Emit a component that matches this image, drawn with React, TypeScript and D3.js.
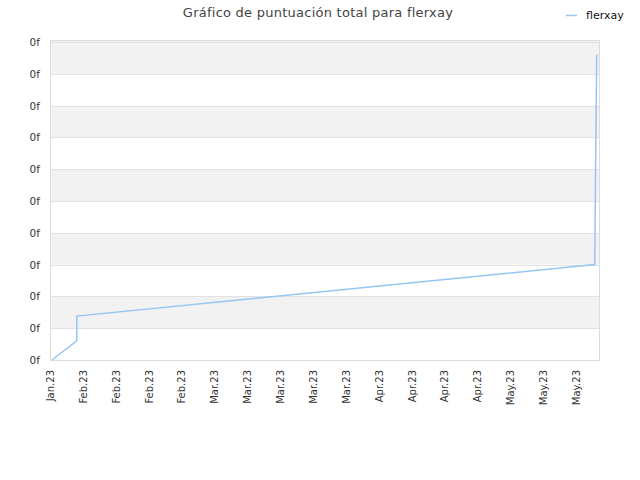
import React from "react";
import * as d3 from "d3";

const title = "Gráfico de puntuación total para flerxay";
const seriesName = "flerxay";
const xTickLabels = [
  "Jan.23", "Feb.23", "Feb.23", "Feb.23", "Feb.23",
  "Mar.23", "Mar.23", "Mar.23", "Mar.23", "Mar.23",
  "Apr.23", "Apr.23", "Apr.23", "Apr.23",
  "May.23", "May.23", "May.23",
];
const yTickValues = [0, 1, 2, 3, 4, 5, 6, 7, 8, 9, 10];
const yTickLabel = "0f";
// positions in tick units, values in grid units
const pointX = [0.04, 0.8, 0.8, 16.56, 16.58, 16.62];
const pointY = [0, 0.6, 1.38, 3.0, 5.4, 9.6];

export default function App() {
  const W = 640, H = 480;
  const left = 50, right = 600, top = 40, bottom = 360;
  const x = d3.scaleLinear().domain([0, 16.72]).range([left + 0.5, right]);
  const y = d3.scaleLinear().domain([0, 10]).range([bottom, 42]);
  const data = pointX.map((v, i) => [v, pointY[i]] as [number, number]);
  const line = d3.line<[number, number]>().x(d => x(d[0])).y(d => y(d[1]));
  const font = "'DejaVu Sans', Verdana, sans-serif";
  const bands = yTickValues.slice(0, -1);
  return (
    <svg width={W} height={H} style={{ position: "absolute", left: 0, top: 0 }}>
      <rect x={0} y={0} width={W} height={H} fill="#fff" />
      <text x={318} y={17} textAnchor="middle" fontFamily={font} fontSize={13} letterSpacing={0.25} fill="#444">{title}</text>
      <line x1={566} x2={577} y1={15.5} y2={15.5} stroke="#97c5f2" strokeWidth={1.5} />
      <text x={586} y={19} fontFamily={font} fontSize={11} fill="#111">{seriesName}</text>
      <rect x={left} y={top} width={right - left} height={bottom - top} fill="#fff" />
      {bands.map(v => (v % 2 === 1 ? (
        <rect key={"b" + v} x={left} y={v === 9 ? top : y(v + 1)} width={right - left}
          height={v === 9 ? y(v) - top : y(v) - y(v + 1)} fill="#f2f2f2" />
      ) : null))}
      {yTickValues.map(v => (
        <line key={"g" + v} x1={left} x2={right} y1={Math.round(y(v)) + 0.5} y2={Math.round(y(v)) + 0.5} stroke="#e2e2e2" strokeWidth={1} />
      ))}
      <rect x={left + 0.5} y={top + 0.5} width={right - left - 1} height={bottom - top} fill="none" stroke="#dcdcdc" strokeWidth={1} />
      {yTickValues.map(v => (
        <text key={"y" + v} x={40} y={y(v) + 4} textAnchor="end" fontFamily={font} fontSize={10.5} fill="#333">{yTickLabel}</text>
      ))}
      {xTickLabels.map((lab, i) => (
        <text key={"x" + i} transform={`translate(${x(i)},${bottom + 10}) rotate(-90)`} dy="0.35em" textAnchor="end" fontFamily={font} fontSize={10} fill="#333">{lab}</text>
      ))}
      <path d={line(data) || ""} fill="none" stroke="#97c5f2" strokeWidth={1.5} />
    </svg>
  );
}
